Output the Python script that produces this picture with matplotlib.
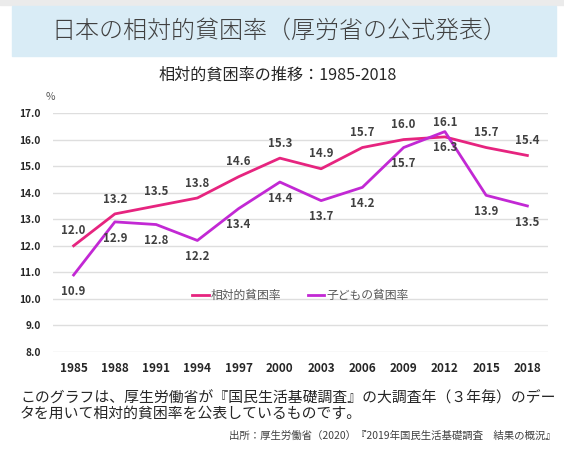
import matplotlib.pyplot as plt
from matplotlib.patches import Rectangle

plt.rcParams['font.family'] = ['Noto Sans CJK JP', 'DejaVu Sans']

years = ['1985', '1988', '1991', '1994', '1997', '2000', '2003', '2006', '2009', '2012', '2015', '2018']
relative = [12.0, 13.2, 13.5, 13.8, 14.6, 15.3, 14.9, 15.7, 16.0, 16.1, 15.7, 15.4]
child = [10.9, 12.9, 12.8, 12.2, 13.4, 14.4, 13.7, 14.2, 15.7, 16.3, 13.9, 13.5]
yticks = [8.0, 9.0, 10.0, 11.0, 12.0, 13.0, 14.0, 15.0, 16.0, 17.0]

W, H = 564, 449
fig = plt.figure(figsize=(W / 100, H / 100), dpi=100)

def fx(px):
    return px / W

def fy(py):
    return 1 - py / H

# top grey strip and title band
fig.patches.append(Rectangle((0, fy(5)), 1, 5 / H, transform=fig.transFigure,
                             color='#ebebeb', zorder=0))
fig.patches.append(Rectangle((fx(12), fy(56)), fx(544), 50 / H, transform=fig.transFigure,
                             color='#d9ecf6', zorder=0))
fig.text(fx(279), fy(31), '日本の相対的貧困率（厚労省の公式発表）', ha='center', va='center',
         fontsize=17.3, fontweight='light', color='#404040')
fig.text(fx(278), fy(75), '相対的貧困率の推移：1985-2018', ha='center', va='center',
         fontsize=11.6, color='#262626')

ax = fig.add_axes([fx(53), fy(352), fx(495), 239 / H])
x = list(range(len(years)))
red = '#e6247f'
purple = '#c228d4'
ax.plot(x, relative, color=red, lw=2, label='相対的貧困率')
ax.plot(x, child, color=purple, lw=2, label='子どもの貧困率')

for i in x:
    ax.annotate(f'{relative[i]:.1f}', (i, relative[i]), xytext=(0, 6), textcoords='offset points',
                ha='center', va='bottom', fontsize=8.3, fontweight='bold', color='#404040')
    ax.annotate(f'{child[i]:.1f}', (i, child[i]), xytext=(0, -7), textcoords='offset points',
                ha='center', va='top', fontsize=8.3, fontweight='bold', color='#404040')

ax.set_xlim(-0.5, len(years) - 0.5)
ax.set_ylim(8, 17)
ax.set_xticks(x)
ax.set_xticklabels(years, fontsize=8.5, fontweight='bold', color='#262626')
ax.set_yticks(yticks)
ax.set_yticklabels([f'{v:.1f}' for v in yticks], fontsize=7.3, fontweight='bold', color='#262626')
ax.tick_params(length=0, pad=7)
ax.tick_params(axis='y', pad=9)
ax.grid(axis='y', color='#dedede', lw=1)
ax.set_axisbelow(True)
for s in ax.spines.values():
    s.set_visible(False)

fig.text(fx(50), fy(97), '%', ha='center', va='center', fontsize=7.5, color='#595959')

ax.legend(loc='center', bbox_to_anchor=(0.5, 0.235), ncol=2, frameon=False, fontsize=8.5,
          handlelength=1.4, handletextpad=0.2, columnspacing=2.2, labelcolor='#595959')

fig.text(fx(20), fy(398), 'このグラフは、厚生労働省が『国民生活基礎調査』の大調査年（３年毎）のデー',
         ha='left', va='center', fontsize=10.7, color='#262626')
fig.text(fx(20), fy(414), 'タを用いて相対的貧困率を公表しているものです。',
         ha='left', va='center', fontsize=10.7, color='#262626')
fig.text(fx(556), fy(436), '出所：厚生労働省（2020）『2019年国民生活基礎調査　結果の概況』',
         ha='right', va='center', fontsize=7.5, color='#404040')

fig.savefig('out.png', dpi=100)
